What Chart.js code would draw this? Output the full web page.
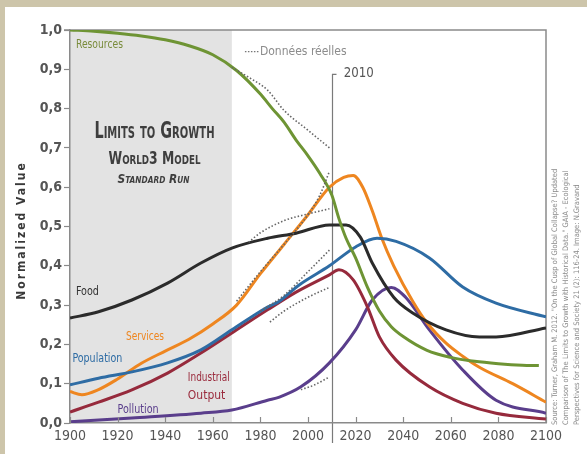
<!DOCTYPE html>
<html>
<head>
<meta charset="utf-8">
<script src="https://cdn.jsdelivr.net/npm/chart.js@4.4.1/dist/chart.umd.min.js"></script>
<style>
html,body{margin:0;padding:0;background:#fff;}
canvas{display:block;}
</style>
</head>
<body>
<canvas id="c" width="587" height="454"></canvas>
<script>
// ---- Data ----
const resourcesYears  = [1900,1910,1920,1930,1940,1950,1960,1970,1980,1985,1990,1995,2000,2005,2010,2013,2016,2020,2025,2030,2035,2040,2050,2060,2070,2080,2090,2097];
const resourcesValues = [1.0,0.997,0.992,0.985,0.975,0.96,0.937,0.897,0.837,0.80,0.765,0.72,0.68,0.635,0.58,0.52,0.47,0.42,0.345,0.285,0.245,0.22,0.185,0.167,0.157,0.151,0.147,0.146];

const servicesYears  = [1900,1905,1912,1920,1930,1940,1950,1960,1970,1980,1990,2000,2009,2015,2019,2023,2027,2031,2036,2044,2050,2058,2065,2072,2086,2100];
const servicesValues = [0.08,0.072,0.085,0.112,0.152,0.183,0.213,0.252,0.30,0.38,0.455,0.53,0.60,0.625,0.63,0.60,0.54,0.47,0.40,0.31,0.255,0.203,0.17,0.142,0.10,0.053];

const populationYears  = [1900,1912,1926,1941,1955,1968,1983,1988,1996,2009,2020,2029,2037,2051,2065,2079,2100];
const populationValues = [0.097,0.114,0.13,0.153,0.186,0.237,0.295,0.31,0.35,0.40,0.448,0.47,0.462,0.42,0.346,0.305,0.27];

const industryYears  = [1900,1912,1926,1941,1955,1968,1983,1995,2009,2013,2019,2025,2030,2037,2051,2065,2079,2100];
const industryValues = [0.028,0.053,0.084,0.127,0.178,0.229,0.288,0.333,0.377,0.39,0.364,0.295,0.219,0.16,0.092,0.05,0.025,0.01];

const pollutionYears  = [1900,1926,1955,1968,1983,1988,1997,2009,2020,2027,2035,2041,2051,2065,2079,2100];
const pollutionValues = [0.003,0.013,0.025,0.033,0.058,0.066,0.092,0.153,0.237,0.313,0.345,0.32,0.237,0.135,0.058,0.025];

const foodYears  = [1900,1912,1926,1941,1955,1968,1983,1995,2009,2016,2022,2027,2036,2044,2058,2072,2079,2100];
const foodValues = [0.267,0.283,0.313,0.356,0.407,0.445,0.47,0.483,0.504,0.504,0.473,0.407,0.32,0.28,0.237,0.219,0.219,0.242];

// Observed data ("Données réelles")
const resourcesRealYears  = [1968,1975,1983,1990,2000,2009];
const resourcesRealValues = [0.905,0.88,0.847,0.795,0.745,0.70];
const servicesRealYears  = [1970,1980,1990,2000,2005,2009];
const servicesRealValues = [0.31,0.385,0.455,0.53,0.58,0.64];
const foodRealYears  = [1975,1980,1990,2000,2009];
const foodRealValues = [0.46,0.484,0.515,0.532,0.545];
const populationRealYears  = [1980,1990,2000,2009];
const populationRealValues = [0.285,0.325,0.385,0.44];
const industryRealYears  = [1984,1990,2000,2009];
const industryRealValues = [0.257,0.285,0.32,0.345];
const pollutionRealYears  = [1997,2002,2009];
const pollutionRealValues = [0.085,0.095,0.117];

const xTickYears = [1900,1920,1940,1960,1980,2000,2020,2040,2060,2080,2100];
const yTickValues = [0,0.1,0.2,0.3,0.4,0.5,0.6,0.7,0.8,0.9,1.0];
const shadedEndYear = 1968;
const markerYear = 2010;

// ---- Styling ----
const NARROW = "'Liberation Sans Narrow', 'DejaVu Sans Condensed', 'Liberation Sans', sans-serif";
const COLORS = {
  resources: '#6e9434', services: '#ee8620', population: '#2e6ca4',
  industry: '#962a3c', pollution: '#5a3e8c', food: '#2b2b2b', real: '#666666'
};

function pts(xs, ys){ return xs.map((x,i)=>({x:x, y:ys[i]})); }
function line(label, xs, ys, color){
  return {label, data: pts(xs,ys), borderColor: color, borderWidth: 3, pointRadius: 0,
    fill:false, cubicInterpolationMode:'monotone'};
}
function dotted(label, xs, ys){
  return {label, data: pts(xs,ys), borderColor: COLORS.real, borderWidth: 1.6, borderDash:[1.5,2],
    pointRadius: 0, fill:false, cubicInterpolationMode:'monotone'};
}

const seriesLabels = [
  {lines:['Resources'], year:1902.5, value:0.955, color:'#7a8c3c', w:47},
  {lines:['Food'], year:1902.5, value:0.325, color:'#333333', w:23},
  {lines:['Services'], year:1923.5, value:0.21, color:'#ee8620', w:38},
  {lines:['Population'], year:1901, value:0.156, color:'#2e6ca4', w:50},
  {lines:['Industrial','Output'], year:1949.5, value:0.107, color:'#9a2a3c', w:42},
  {lines:['Pollution'], year:1920, value:0.025, color:'#5a3e8c', w:41}
];

const framePlugin = {
  id:'frame',
  beforeDraw(chart){
    const ctx = chart.ctx, ca = chart.chartArea;
    const xs = chart.scales.x, ys = chart.scales.y;
    ctx.save();
    ctx.fillStyle = '#cdc5aa';
    ctx.fillRect(0,0,chart.width,chart.height);
    ctx.fillStyle = '#ffffff';
    ctx.fillRect(5,7,chart.width-5,chart.height-7);
    // shaded historical period
    const xe = xs.getPixelForValue(shadedEndYear);
    ctx.fillStyle = '#e3e3e3';
    ctx.fillRect(ca.left, ca.top, xe-ca.left, ca.bottom-ca.top);
    // top and right border
    ctx.strokeStyle = '#8a8a8a';
    ctx.lineWidth = 1.5;
    ctx.beginPath();
    ctx.moveTo(ca.left-6, ca.top); ctx.lineTo(ca.right, ca.top);
    ctx.lineTo(ca.right, ca.bottom+ 0);
    ctx.stroke();
    // 2010 marker line
    const xm = Math.round(xs.getPixelForValue(markerYear))+0.5;
    ctx.strokeStyle = '#7a7a7a';
    ctx.lineWidth = 1.2;
    ctx.beginPath();
    ctx.moveTo(xm+4, ys.getPixelForValue(0.887));
    ctx.lineTo(xm, ys.getPixelForValue(0.887));
    ctx.lineTo(xm, ca.bottom+20);
    ctx.stroke();
    ctx.restore();
  },
  afterDraw(chart){
    const ctx = chart.ctx, ca = chart.chartArea;
    const xs = chart.scales.x, ys = chart.scales.y;
    ctx.save();
    // inward x ticks
    ctx.strokeStyle = '#8a8a8a';
    ctx.lineWidth = 1.2;
    xTickYears.forEach(yr=>{
      const px = Math.round(xs.getPixelForValue(yr))+0.5;
      ctx.beginPath(); ctx.moveTo(px, ca.bottom); ctx.lineTo(px, ca.bottom-6); ctx.stroke();
    });
    // title block
    ctx.fillStyle = '#3e3e3e';
    ctx.textAlign = 'center';
    ctx.textBaseline = 'alphabetic';
    const cx = xs.getPixelForValue(1935.5);
    ctx.font = "small-caps bold 23px " + NARROW;
    ctx.fillText('Limits to Growth', cx, ys.getPixelForValue(0.726), 120);
    ctx.font = "small-caps bold 17px " + NARROW;
    ctx.fillText('World3 Model', cx, ys.getPixelForValue(0.66), 92);
    ctx.font = "italic small-caps bold 13px " + NARROW;
    ctx.fillText('Standard Run', cx-1, ys.getPixelForValue(0.61), 72);
    // series labels
    ctx.textAlign = 'left';
    ctx.font = "12px " + NARROW;
    seriesLabels.forEach(l=>{
      ctx.fillStyle = l.color;
      l.lines.forEach((t,i)=>{
        ctx.fillText(t, xs.getPixelForValue(l.year), ys.getPixelForValue(l.value) + i*18, l.w);
      });
    });
    // legend for observed data
    const lx = xs.getPixelForValue(1973.5), ly = ys.getPixelForValue(0.945);
    ctx.strokeStyle = '#777';
    ctx.lineWidth = 1.3;
    ctx.setLineDash([1.5,1.5]);
    ctx.beginPath(); ctx.moveTo(lx, ly); ctx.lineTo(lx+14, ly); ctx.stroke();
    ctx.setLineDash([]);
    ctx.fillStyle = '#8c8c8c';
    ctx.font = "12px " + NARROW;
    ctx.textBaseline = 'middle';
    ctx.fillText('Données réelles', lx+15, ly, 89);
    // 2010 label
    ctx.fillStyle = '#555';
    ctx.font = "14px " + NARROW;
    ctx.fillText('2010', xs.getPixelForValue(markerYear)+12, ys.getPixelForValue(0.889), 30);
    // y axis title
    ctx.save();
    ctx.translate(22, (ca.top+ca.bottom)/2 + 4);
    ctx.rotate(-Math.PI/2);
    ctx.textAlign = 'center';
    ctx.fillStyle = '#3a3a3a';
    ctx.font = "bold 12px " + NARROW;
    try { ctx.letterSpacing = '2px'; } catch(e) {}
    ctx.fillText('Normalized Value', 0, 0, 156);
    ctx.restore();
    // source text (rotated)
    ctx.save();
    ctx.translate(ca.right, ca.bottom + 2);
    ctx.rotate(-Math.PI/2);
    ctx.textAlign = 'left';
    ctx.textBaseline = 'middle';
    ctx.fillStyle = '#8a8a8a';
    ctx.font = "7.5px " + NARROW;
    const src = [
      'Source: Turner, Graham M. 2012. "On the Cusp of Global Collapse? Updated',
      'Comparison of The Limits to Growth with Historical Data." GAIA - Ecological',
      'Perspectives for Science and Society 21 (2): 116-24. Image: N.Gravand'
    ];
    const widths = [330, 330, 280];
    src.forEach((t,i)=>{ ctx.fillText(t, 0, 9 + i*11, widths[i]); });
    ctx.restore();
    ctx.restore();
  }
};

const chart = new Chart(document.getElementById('c'), {
  type: 'line',
  data: {
    datasets: [
      dotted('Resources (real)', resourcesRealYears, resourcesRealValues),
      dotted('Services (real)', servicesRealYears, servicesRealValues),
      dotted('Food (real)', foodRealYears, foodRealValues),
      dotted('Population (real)', populationRealYears, populationRealValues),
      dotted('Industrial (real)', industryRealYears, industryRealValues),
      dotted('Pollution (real)', pollutionRealYears, pollutionRealValues),
      line('Resources', resourcesYears, resourcesValues, COLORS.resources),
      line('Food', foodYears, foodValues, COLORS.food),
      line('Population', populationYears, populationValues, COLORS.population),
      line('Services', servicesYears, servicesValues, COLORS.services),
      line('Industrial Output', industryYears, industryValues, COLORS.industry),
      line('Pollution', pollutionYears, pollutionValues, COLORS.pollution)
    ]
  },
  options: {
    responsive: false,
    animation: false,
    events: [],
    layout: { padding: { left: 0, right: 41, top: 30, bottom: 0 } },
    plugins: { legend: { display: false }, tooltip: { enabled: false }, title: { display: false } },
    scales: {
      x: {
        type: 'linear', min: 1900, max: 2100,
        afterBuildTicks(scale){ scale.ticks = xTickYears.map(v=>({value:v})); },
        afterFit(scale){ scale.height = 31; },
        border: { display: true, color: '#8a8a8a', width: 1.5 },
        grid: { display: true, drawOnChartArea: false, drawTicks: false },
        ticks: { padding: 5, color: '#555', font: { family: NARROW, size: 14 }, maxRotation: 0,
          callback: v => String(v) }
      },
      y: {
        min: 0, max: 1,
        afterBuildTicks(scale){ scale.ticks = yTickValues.map(v=>({value:v})); },
        afterFit(scale){ scale.width = 70; },
        border: { display: true, color: '#8a8a8a', width: 1.5 },
        grid: { display: true, drawOnChartArea: false, drawTicks: true, tickLength: 6, color: '#8a8a8a', tickWidth: 1.2 },
        ticks: { padding: 2, color: '#555', font: { family: NARROW, size: 14, weight: 'bold' },
          callback: v => v.toFixed(1).replace('.', ',') }
      }
    }
  },
  plugins: [framePlugin]
});
</script>
</body>
</html>
